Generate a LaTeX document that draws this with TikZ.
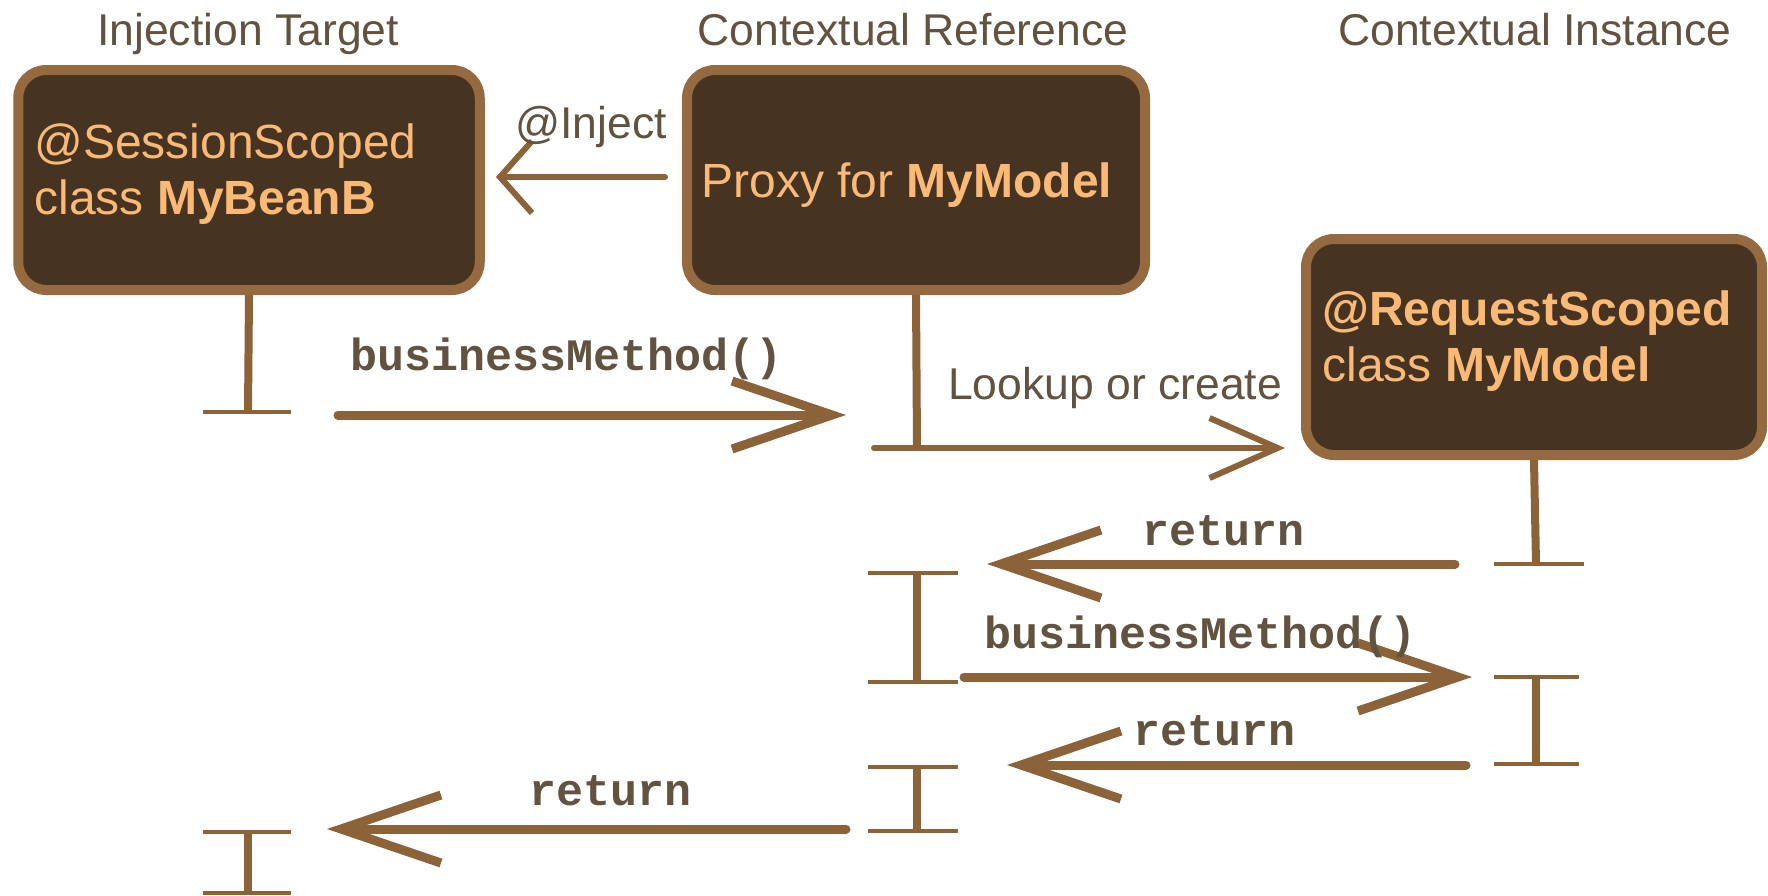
\documentclass[tikz,border=0pt]{standalone}
\usepackage{fontspec}
\setmainfont{Liberation Sans}
\setmonofont{Liberation Mono}
\usetikzlibrary{arrows.meta}

\definecolor{boxfill}{RGB}{70,51,33}
\definecolor{boxrim}{RGB}{150,106,64}
\definecolor{ink}{RGB}{140,99,56}
\definecolor{peach}{RGB}{250,186,118}
\definecolor{labelgray}{RGB}{98,82,64}

\tikzset{
  bean/.style={draw=boxrim, line width=5pt, fill=boxfill, rounded corners=14pt, inner sep=0pt},
  beantext/.style={text=peach, font=\fontsize{24}{28}\selectfont, anchor=base west, inner sep=0pt},
  heading/.style={text=labelgray, font=\fontsize{22.25}{26}\selectfont, anchor=base, inner sep=0pt},
  msg/.style={text=labelgray, font=\fontsize{22.5}{26}\selectfont\ttfamily\bfseries, anchor=base, inner sep=0pt},
  lifeline/.style={draw=ink, line width=4pt},
  tick/.style={draw=ink, line width=1.8pt},
  call/.style={draw=ink, line width=4.5pt, line cap=round, -{Straight Barb[length=50pt, width=34pt]}},
  lookup/.style={draw=ink, line width=3pt, line cap=round, -{Straight Barb[length=34pt, width=30pt]}},
  inject/.style={draw=ink, line width=3pt, line cap=round, -{Straight Barb[length=16pt, width=36pt]}},
}

\begin{document}
\begin{tikzpicture}[x=0.5pt, y=-0.5pt]
  \useasboundingbox (0,0) rectangle (1768,895);

  % column headings
  \node[heading] (h-target) at (248,45) {Injection Target};
  \node[heading] (h-ref) at (913,45) {Contextual Reference};
  \node[heading] (h-inst) at (1535,45) {Contextual Instance};

  % the three beans
  \node[bean, minimum width=230.75pt, minimum height=110pt] (target) at (249,180) {};
  \node[bean, minimum width=229pt, minimum height=110pt] (proxy) at (916,180) {};
  \node[bean, minimum width=228pt, minimum height=108pt] (model) at (1534,347) {};
  \node[beantext] (target-l1) at (34,158) {@SessionScoped};
  \node[beantext] (target-l2) at (34,214) {class \textbf{MyBeanB}};
  \node[beantext] (proxy-l1) at (701,197) {Proxy for \textbf{MyModel}};
  \node[beantext] (model-l1) at (1322,325) {\textbf{@RequestScoped}};
  \node[beantext] (model-l2) at (1322,381) {class \textbf{MyModel}};

  % injection
  \coordinate (inj-from) at (665,177);
  \coordinate (inj-to) at (496,177);
  \draw[inject] (inj-from) -- (inj-to);
  \node[heading] (inj) at (591,138) {@Inject};

  % lifelines
  \draw[lifeline] (target.south) -- (248,412) coordinate (t-end);
  \draw[tick] (t-end) ++(-45,0) -- ++(88,0);
  \draw[lifeline] (proxy.south) -- (917,448) coordinate (p-end);
  \draw[lifeline] (model.south) -- (1536,564) coordinate (m-end);
  \draw[tick] (m-end) ++(-42,0) -- ++(90,0);

  % first call
  \coordinate (bm1-from) at (338,415);
  \coordinate (bm1-to) at (846,415);
  \draw[call] (bm1-from) -- (bm1-to);
  \node[msg] (bm1) at (567,370) {businessMethod()};

  % lookup
  \coordinate (look-from) at (874,448);
  \coordinate (look-to) at (1285,448);
  \draw[lookup] (look-from) -- (look-to);
  \node[heading] (look) at (1115,399) {Lookup or create};

  \coordinate (ret1-from) at (1455,564);
  \coordinate (ret1-to) at (987,564);
  \draw[call] (ret1-from) -- (ret1-to);
  \node[msg] (ret1) at (1224,545) {return};

  % proxy activation
  \draw[lifeline] (917,573) coordinate (pa-top) -- (917,682) coordinate (pa-bot);
  \draw[tick] (pa-top) ++(-49,0) -- ++(90,0);
  \draw[tick] (pa-bot) ++(-49,0) -- ++(90,0);

  % delegated call
  \coordinate (bm2-from) at (964,677);
  \coordinate (bm2-to) at (1472,677);
  \draw[call] (bm2-from) -- (bm2-to);
  \node[msg] (bm2) at (1201,648) {businessMethod()};

  % model activation
  \draw[lifeline] (1536,677) coordinate (ma-top) -- (1536,764) coordinate (ma-bot);
  \draw[tick] (ma-top) ++(-42,0) -- ++(85,0);
  \draw[tick] (ma-bot) ++(-42,0) -- ++(85,0);

  \coordinate (ret2-from) at (1466,765);
  \coordinate (ret2-to) at (1007,765);
  \draw[call] (ret2-from) -- (ret2-to);
  \node[msg] (ret2) at (1215,745) {return};

  \draw[lifeline] (917,767) coordinate (pb-top) -- (917,831) coordinate (pb-bot);
  \draw[tick] (pb-top) ++(-49,0) -- ++(90,0);
  \draw[tick] (pb-bot) ++(-49,0) -- ++(90,0);

  \coordinate (ret3-from) at (846,829);
  \coordinate (ret3-to) at (327,829);
  \draw[call] (ret3-from) -- (ret3-to);
  \node[msg] (ret3) at (611,805) {return};

  % back in the target
  \draw[lifeline] (248,832) coordinate (tb-top) -- (248,893) coordinate (tb-bot);
  \draw[tick] (tb-top) ++(-45,0) -- ++(88,0);
  \draw[tick] (tb-bot) ++(-45,0) -- ++(88,0);
\end{tikzpicture}
\end{document}
